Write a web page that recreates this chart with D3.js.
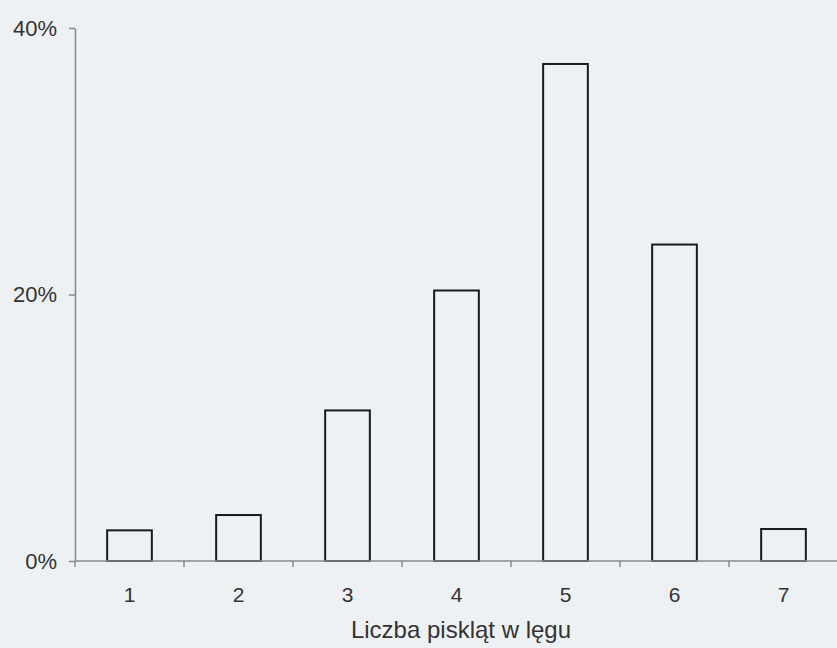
<!DOCTYPE html>
<html>
<head>
<meta charset="utf-8">
<script src="https://cdn.jsdelivr.net/npm/d3@7/dist/d3.min.js"></script>
<style>
  html, body { margin: 0; padding: 0; background: #eef1f4; }
  svg { display: block; }
  text { font-family: "Liberation Sans", Arial, sans-serif; fill: #333; }
</style>
</head>
<body>
<svg id="chart" width="837" height="648"></svg>
<script>
// Clutch size (number of chicks) and share of nests, in percent
const categories = ["1", "2", "3", "4", "5", "6", "7"];
const shares = [2.3, 3.45, 11.3, 20.3, 37.3, 23.75, 2.4];
const yTicks = [0, 20, 40];
const xTitle = "Liczba piskląt w lęgu";

const svg = d3.select("#chart");
const plotLeft = 75, plotRight = 838, plotTop = 28, plotBottom = 561;

const x = d3.scaleBand().domain(categories).range([plotLeft, plotRight]).padding(0);
const y = d3.scaleLinear().domain([0, 40]).range([plotBottom, plotTop]);

const barW = x.bandwidth() * 0.41;

// Bars: outlined only
svg.append("g")
  .selectAll("rect")
  .data(categories.map((c, i) => ({ c, v: shares[i] })))
  .join("rect")
  .attr("x", d => x(d.c) + (x.bandwidth() - barW) / 2)
  .attr("y", d => y(d.v))
  .attr("width", barW)
  .attr("height", d => y(0) - y(d.v))
  .attr("fill", "none")
  .attr("stroke", "#1a1a1a")
  .attr("stroke-width", 2);

// Y axis
const yAxis = svg.append("g")
  .attr("transform", `translate(${plotLeft},0)`)
  .call(d3.axisLeft(y).tickValues(yTicks).tickFormat(d => d + "%").tickSize(6).tickSizeOuter(0).tickPadding(12));
yAxis.attr("font-size", null).attr("font-family", null);
yAxis.select(".domain").attr("stroke", "#888").attr("stroke-width", 1.5);
yAxis.selectAll(".tick line").attr("stroke", "#888").attr("stroke-width", 1.5);
yAxis.selectAll(".tick text")
  .style("font-size", "22px")
  .style("fill", "#333");

// X axis: ticks sit between categories
const xAxis = svg.append("g").attr("transform", `translate(0,${plotBottom})`);
xAxis.append("line")
  .attr("x1", plotLeft).attr("x2", plotRight)
  .attr("stroke", "#888").attr("stroke-width", 1.5);
xAxis.selectAll("line.tk")
  .data(categories)
  .join("line")
  .attr("class", "tk")
  .attr("x1", d => x(d)).attr("x2", d => x(d))
  .attr("y1", 0).attr("y2", 6)
  .attr("stroke", "#888").attr("stroke-width", 1.5);
xAxis.selectAll("text")
  .data(categories)
  .join("text")
  .attr("x", d => x(d) + x.bandwidth() / 2)
  .attr("y", 41)
  .attr("text-anchor", "middle")
  .style("font-size", "21px")
  .text(d => d);

// Axis title
svg.append("text")
  .attr("x", 461)
  .attr("y", 638)
  .attr("text-anchor", "middle")
  .style("font-size", "24px")
  .text(xTitle);
</script>
</body>
</html>
